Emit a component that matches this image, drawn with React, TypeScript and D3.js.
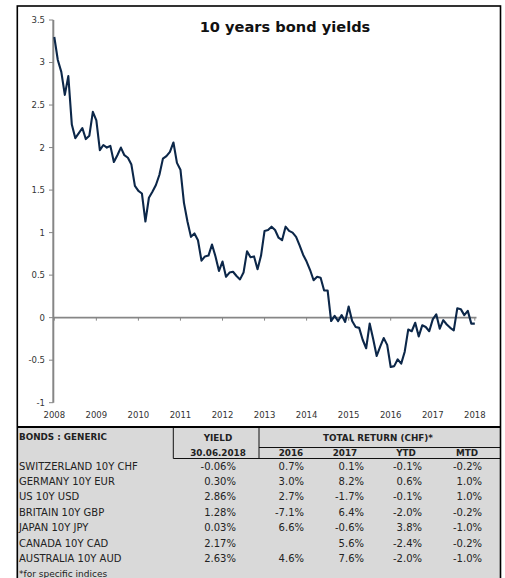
// App.tsx - 10 years bond yields (line chart + returns table)
import * as d3 from 'd3';

// years on the x axis
const years = [2008, 2009, 2010, 2011, 2012, 2013, 2014, 2015, 2016, 2017, 2018];
const yTicks = [-1, -0.5, 0, 0.5, 1, 1.5, 2, 2.5, 3, 3.5];

// monthly 10y yield, starting Jan 2008
const yields = [
  3.30, 3.03, 2.89, 2.62, 2.84, 2.27, 2.11, 2.17, 2.23, 2.10, 2.14, 2.42,
  2.32, 1.97, 2.03, 2.00, 2.02, 1.83, 1.91, 2.00, 1.91, 1.88, 1.80, 1.55,
  1.49, 1.46, 1.13, 1.41, 1.48, 1.56, 1.68, 1.87, 1.90, 1.95, 2.06, 1.82,
  1.74, 1.35, 1.13, 0.95, 0.99, 0.91, 0.67, 0.72, 0.73, 0.86, 0.72, 0.55,
  0.66, 0.48, 0.53, 0.54, 0.49, 0.45, 0.53, 0.78, 0.71, 0.72, 0.57, 0.73,
  1.02, 1.03, 1.07, 1.03, 0.94, 0.91, 1.07, 1.02, 1.00, 0.95, 0.85, 0.74,
  0.66, 0.56, 0.44, 0.48, 0.47, 0.32, 0.32, -0.04, 0.02, -0.04, 0.03, -0.05,
  0.13, -0.04, -0.11, -0.12, -0.26, -0.36, -0.07, -0.25, -0.45, -0.34, -0.24, -0.32,
  -0.58, -0.57, -0.49, -0.54, -0.40, -0.14, -0.16, -0.06, -0.22, -0.09, -0.11, -0.16,
  -0.02, 0.04, -0.13, -0.03, -0.08, -0.12, -0.15, 0.11, 0.10, 0.03, 0.08, -0.07,
  -0.07,
];

// table
const bonds = [
  'SWITZERLAND 10Y CHF',
  'GERMANY 10Y EUR',
  'US 10Y USD',
  'BRITAIN 10Y GBP',
  'JAPAN 10Y JPY',
  'CANADA 10Y CAD',
  'AUSTRALIA 10Y AUD',
];
const yieldNow = [-0.06, 0.3, 2.86, 1.28, 0.03, 2.17, 2.63];
const ret2016 = [0.7, 3.0, 2.7, -7.1, 6.6, null, 4.6];
const ret2017 = [0.1, 8.2, -1.7, 6.4, -0.6, 5.6, 7.6];
const retYtd = [-0.1, 0.6, -0.1, -2.0, 3.8, -2.4, -2.0];
const retMtd = [-0.2, 1.0, 1.0, -0.2, -1.0, -0.2, -1.0];

const W = 505;
const H = 578;
const FONT = '"DejaVu Sans", sans-serif';

export default function App() {
  const x = d3.scaleLinear().domain([2008, 2018]).range([54.3, 474.8]);
  const y = d3.scaleLinear().domain([-1, 3.5]).range([402.7, 20]);

  const line = d3
    .line<number>()
    .x((_, i) => x(2008 + i / 12))
    .y((d) => y(d));

  const fmt = (v: number | null, dec: number) => (v == null ? '' : `${v.toFixed(dec)}%`);

  // table geometry
  const tTop = 427;
  const rowY = (i: number) => 469.5 + i * 15.4;
  const cols = [
    { data: yieldNow, dec: 2, right: 236 },
    { data: ret2016, dec: 1, right: 304 },
    { data: ret2017, dec: 1, right: 364 },
    { data: retYtd, dec: 1, right: 422 },
    { data: retMtd, dec: 1, right: 482 },
  ];

  return (
    <svg
      width={W}
      height={H}
      style={{ position: 'absolute', left: 0, top: 0, background: '#fff' }}
      fontFamily={FONT}
    >
      {/* table background */}
      <rect x={17} y={tTop} width={483.5} height={H - tTop} fill="#d9d9d9" />

      {/* y axis */}
      <line x1={53.3} x2={53.3} y1={y(3.5)} y2={y(-1)} stroke="#868686" strokeWidth={2} />
      {yTicks.map((t) => (
        <g key={t}>
          <line x1={49} x2={53.3} y1={y(t)} y2={y(t)} stroke="#868686" strokeWidth={1} />
          <text x={45} y={y(t)} dy="0.35em" textAnchor="end" fontSize={8.5} fill="#333">
            {t}
          </text>
        </g>
      ))}

      {/* zero line + year ticks */}
      <line x1={53.3} x2={476.5} y1={y(0)} y2={y(0)} stroke="#868686" strokeWidth={1.6} />
      {years.map((yr) => (
        <g key={yr}>
          <line x1={x(yr)} x2={x(yr)} y1={y(0)} y2={y(0) + 3} stroke="#868686" strokeWidth={1} />
          <text x={x(yr)} y={418} textAnchor="middle" fontSize={8.5} fill="#333">
            {yr}
          </text>
        </g>
      ))}

      {/* series */}
      <path d={line(yields) ?? ''} fill="none" stroke="#0c2749" strokeWidth={2.1} strokeLinejoin="round" />

      {/* title */}
      <text x={285} y={32} textAnchor="middle" fontSize={14.6} fontWeight="bold" fill="#111">
        10 years bond yields
      </text>

      {/* table header */}
      <g fontSize={8.8} fontWeight="bold" fill="#222">
        <text x={19} y={440}>BONDS : GENERIC</text>
        <text x={218} y={441} textAnchor="middle">YIELD</text>
        <text x={218} y={456} textAnchor="middle">30.06.2018</text>
        <text x={378} y={441} textAnchor="middle">TOTAL RETURN (CHF)*</text>
        <text x={291} y={456} textAnchor="middle">2016</text>
        <text x={345} y={456} textAnchor="middle">2017</text>
        <text x={406} y={456} textAnchor="middle">YTD</text>
        <text x={467} y={456} textAnchor="middle">MTD</text>
      </g>
      <line x1={173.3} x2={173.3} y1={tTop} y2={458.5} stroke="#111" strokeWidth={1} />
      <line x1={259} x2={259} y1={tTop} y2={458.5} stroke="#111" strokeWidth={1} />
      <line x1={259} x2={500} y1={447.5} y2={447.5} stroke="#111" strokeWidth={1} />
      <line x1={173.3} x2={500} y1={458.5} y2={458.5} stroke="#111" strokeWidth={1} />

      {/* table rows */}
      <g fontSize={10} fill="#222">
        {bonds.map((b, i) => (
          <g key={b}>
            <text x={19} y={rowY(i)}>{b}</text>
            {cols.map((c, j) => (
              <text key={j} x={c.right} y={rowY(i)} textAnchor="end">
                {fmt(c.data[i], c.dec)}
              </text>
            ))}
          </g>
        ))}
        <text x={19} y={rowY(7) - 0.5} fontSize={9}>*for specific indices</text>
      </g>

      {/* frame */}
      <line x1={17} x2={500.5} y1={tTop} y2={tTop} stroke="#000" strokeWidth={2} />
      <rect x={17.3} y={6} width={483.2} height={H} fill="none" stroke="#000" strokeWidth={1.6} />
    </svg>
  );
}
